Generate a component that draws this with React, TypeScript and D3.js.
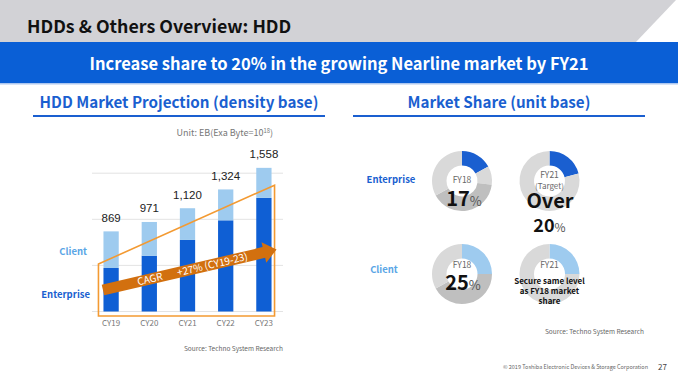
import React from "react";
import * as d3 from "d3";

// ---------- data ----------
const categories = ["CY19", "CY20", "CY21", "CY22", "CY23"];
const enterpriseValues = [472, 605, 776, 989, 1232];
const clientValues = [397, 366, 344, 335, 326];
const totalLabels = ["869", "971", "1,120", "1,324", "1,558"];
const gridTicks = [0, 500, 1000, 1500];

const shareEntFY18 = [17, 10, 40, 33];
const shareEntFY21 = [21, 79];
const shareCliFY18 = [25, 42, 33];
const shareCliFY21 = [25, 75];

const W = 678;
const H = 381;
const SANS = "'Noto Sans CJK JP', 'Source Sans Pro', 'Noto Sans', sans-serif";
const ARIAL = "'Liberation Sans', Arial, sans-serif";

const C_ENT = "#0f5fd4";
const C_CLI = "#9ecbef";
const C_BLUE = "#1a5fd0";
const C_GRAY_L = "#d9d9d9";
const C_GRAY_D = "#bfbfbf";

type DonutProps = {
  cx: number;
  cy: number;
  values: number[];
  colors: string[];
};

function Donut({ cx, cy, values, colors }: DonutProps) {
  const pie = d3.pie<number>().sort(null).value((d) => d);
  const arc = d3.arc<d3.PieArcDatum<number>>().innerRadius(15.5).outerRadius(30);
  const arcs = pie(values);
  return (
    <g transform={`translate(${cx},${cy})`}>
      {arcs.map((a, i) => (
        <path key={i} d={arc(a) || ""} fill={colors[i]} />
      ))}
    </g>
  );
}

export default function App() {
  const x = d3
    .scaleBand<string>()
    .domain(categories)
    .range([92, 283])
    .paddingInner(0.6)
    .paddingOuter(0.3);
  const y = d3.scaleLinear().domain([0, 1500]).range([311.5, 173.2]);

  const rows = categories.map((c, i) => ({
    cat: c,
    enterprise: enterpriseValues[i],
    client: clientValues[i],
  }));
  const stack = d3.stack<any>().keys(["enterprise", "client"]);
  const series = stack(rows);
  const seriesColors = [C_ENT, C_CLI];

  // annotation box
  const boxL = (x(categories[0]) as number) - 5;
  const boxR = (x(categories[4]) as number) + x.bandwidth() + 3;
  const boxB = y(0) + 4.5;
  const boxTL = y(515);
  const boxTR = y(1370);

  // arrow
  const ax0 = (x(categories[0]) as number) - 0.5;
  const ay0 = 290;
  const ax1 = boxR + 2;
  const ay1 = 249.5;
  const ang = (Math.atan2(ay1 - ay0, ax1 - ax0) * 180) / Math.PI;
  const L = Math.hypot(ax1 - ax0, ay1 - ay0);
  const bh = 5.5;
  const hh = 10.5;
  const hl = 13;
  const arrowPath = `M0,${-bh} L${L - hl},${-bh} L${L - hl},${-hh} L${L},0 L${L - hl},${hh} L${L - hl},${bh} L0,${bh} Z`;

  return (
    <svg
      width={W}
      height={H}
      viewBox={`0 0 ${W} ${H}`}
      style={{ position: "absolute", left: 0, top: 0, background: "#fff" }}
    >
      {/* header */}
      <polygon points={`0,0 676,0 636,42 0,42`} fill="#d2d2d6" />
      <text x={27} y={33} fontFamily={SANS} fontWeight={700} fontSize={17.8} fill="#111">
        HDDs &amp; Others Overview: HDD
      </text>
      <rect x={0} y={42} width={W} height={41} fill="#0a5fd6" />
      <rect x={0} y={83} width={W} height={1.5} fill="#5b8fe0" opacity={0.5} />
      <text
        x={339}
        y={69.5}
        textAnchor="middle"
        fontFamily={SANS}
        fontWeight={700}
        fontSize={16.5}
        fill="#fff"
      >
        Increase share to 20% in the growing Nearline market by FY21
      </text>

      {/* section titles */}
      <text x={179} y={108} textAnchor="middle" fontFamily={SANS} fontWeight={700} fontSize={15.2} fill={C_BLUE}>
        HDD Market Projection (density base)
      </text>
      <line x1={33} x2={325} y1={116} y2={116} stroke={C_BLUE} strokeWidth={2} />
      <text x={499} y={108} textAnchor="middle" fontFamily={SANS} fontWeight={700} fontSize={15.2} fill={C_BLUE}>
        Market Share (unit base)
      </text>
      <line x1={353} x2={645} y1={116} y2={116} stroke={C_BLUE} strokeWidth={2} />

      {/* unit */}
      <text x={176.5} y={136} fontFamily={SANS} fontSize={9} fill="#777">
        Unit: EB(Exa Byte=10
        <tspan fontSize={5.8} dy={-3.5}>18</tspan>
        <tspan dy={3.5}>)</tspan>
      </text>

      {/* gridlines */}
      {gridTicks.map((t) => (
        <line key={t} x1={92} x2={283} y1={y(t)} y2={y(t)} stroke="#e3e3e3" strokeWidth={1} />
      ))}

      {/* bars */}
      {series.map((s, si) =>
        s.map((d, i) => (
          <rect
            key={`${si}-${i}`}
            x={x(categories[i]) as number}
            y={y(d[1])}
            width={x.bandwidth()}
            height={y(d[0]) - y(d[1])}
            fill={seriesColors[si]}
          />
        ))
      )}

      {/* total labels */}
      {categories.map((c, i) => (
        <text
          key={c}
          x={(x(c) as number) + x.bandwidth() / 2}
          y={y(enterpriseValues[i] + clientValues[i]) - 9.5}
          textAnchor="middle"
          fontFamily={ARIAL}
          fontSize={11.5}
          fill="#222"
        >
          {totalLabels[i]}
        </text>
      ))}

      {/* x labels */}
      {categories.map((c) => (
        <text
          key={c}
          x={(x(c) as number) + x.bandwidth() / 2}
          y={326}
          textAnchor="middle"
          fontFamily={SANS}
          fontSize={8}
          fill="#777"
        >
          {c}
        </text>
      ))}

      {/* legend labels */}
      <text x={87} y={255} textAnchor="end" fontFamily={SANS} fontWeight={700} fontSize={9.5} fill="#5aa6e6">
        Client
      </text>
      <text x={90} y={297.5} textAnchor="end" fontFamily={SANS} fontWeight={700} fontSize={9.5} fill={C_BLUE}>
        Enterprise
      </text>

      {/* annotation box */}
      <polygon
        points={`${boxL},${boxTL} ${boxR},${boxTR} ${boxR},${boxB} ${boxL},${boxB}`}
        fill="none"
        stroke="#f39a32"
        strokeWidth={1.6}
      />

      {/* arrow */}
      <g transform={`translate(${ax0},${ay0}) rotate(${ang})`}>
        <path d={arrowPath} fill="#d2700f" />
        <text x={L * 0.27} y={3.6} textAnchor="middle" fontFamily={SANS} fontSize={10} fill="#fff">
          CAGR
        </text>
        <text x={L * 0.63} y={3.6} textAnchor="middle" fontFamily={SANS} fontSize={10} fill="#fff">
          +27% (CY19-23)
        </text>
      </g>

      <text x={283} y={351} textAnchor="end" fontFamily={SANS} fontSize={6.5} fill="#666">
        Source: Techno System Research
      </text>

      {/* right: donuts */}
      <text x={391} y={183} textAnchor="middle" fontFamily={SANS} fontWeight={700} fontSize={9.5} fill={C_BLUE}>
        Enterprise
      </text>
      <text x={384} y={272.5} textAnchor="middle" fontFamily={SANS} fontWeight={700} fontSize={9.5} fill="#5aa6e6">
        Client
      </text>

      <Donut cx={462} cy={181} values={shareEntFY18} colors={[C_BLUE, C_GRAY_L, C_GRAY_D, C_GRAY_L]} />
      <Donut cx={549.5} cy={181} values={shareEntFY21} colors={[C_BLUE, C_GRAY_L]} />
      <Donut cx={462} cy={274} values={shareCliFY18} colors={[C_CLI, C_GRAY_D, C_GRAY_L]} />
      <Donut cx={549.5} cy={274} values={shareCliFY21} colors={[C_CLI, C_GRAY_L]} />

      {/* donut texts */}
      <text x={462} y={182.5} textAnchor="middle" fontFamily={SANS} fontSize={8.5} fill="#666">
        FY18
      </text>
      <text x={464} y={206} textAnchor="middle" fontFamily={SANS} fill="#111">
        <tspan fontWeight={700} fontSize={20}>17</tspan>
        <tspan fontSize={13} fill="#555">%</tspan>
      </text>

      <text x={549.5} y={177.5} textAnchor="middle" fontFamily={SANS} fontSize={8.5} fill="#666">
        FY21
      </text>
      <text x={549.5} y={188.5} textAnchor="middle" fontFamily={SANS} fontSize={8} fill="#666">
        (Target)
      </text>
      <text x={550} y={208} textAnchor="middle" fontFamily={SANS} fontWeight={700} fontSize={20} fill="#111">
        Over
      </text>
      <text x={549.5} y={232} textAnchor="middle" fontFamily={SANS} fill="#111">
        <tspan fontWeight={700} fontSize={18}>20</tspan>
        <tspan fontSize={12} fill="#555">%</tspan>
      </text>

      <text x={462} y={267.5} textAnchor="middle" fontFamily={SANS} fontSize={8.5} fill="#666">
        FY18
      </text>
      <text x={463} y={290} textAnchor="middle" fontFamily={SANS} fill="#111">
        <tspan fontWeight={700} fontSize={20}>25</tspan>
        <tspan fontSize={13} fill="#555">%</tspan>
      </text>

      <text x={549.5} y={267.5} textAnchor="middle" fontFamily={SANS} fontSize={8.5} fill="#666">
        FY21
      </text>
      <text x={549.5} y={283.5} textAnchor="middle" fontFamily={SANS} fontWeight={700} fontSize={8} fill="#111">
        Secure same level
      </text>
      <text x={549.5} y={293.5} textAnchor="middle" fontFamily={SANS} fontWeight={700} fontSize={8} fill="#111">
        as FY18 market
      </text>
      <text x={549.5} y={303.5} textAnchor="middle" fontFamily={SANS} fontWeight={700} fontSize={8} fill="#111">
        share
      </text>

      <text x={644} y={334} textAnchor="end" fontFamily={SANS} fontSize={6.5} fill="#666">
        Source: Techno System Research
      </text>

      {/* footer */}
      <text x={648} y={369} textAnchor="end" fontFamily={SANS} fontSize={5.5} fill="#666">
        © 2019 Toshiba Electronic Devices &amp; Storage Corporation
      </text>
      <text x={667} y={370} textAnchor="end" fontFamily={SANS} fontSize={8} fill="#444">
        27
      </text>
    </svg>
  );
}
